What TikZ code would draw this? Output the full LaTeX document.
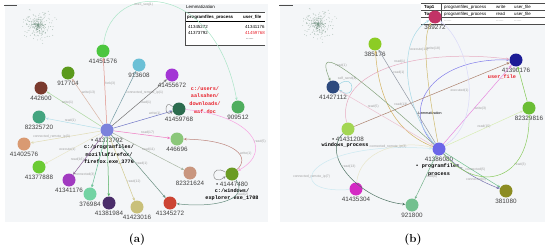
\documentclass[tikz,border=0pt]{standalone}
\usepackage{fontspec}
\setsansfont{Liberation Sans}
\setmonofont{Liberation Mono}
\usepackage{tikz}
\usetikzlibrary{positioning,calc,arrows.meta}
% node colours, panel (a)
\definecolor{cHubA}{HTML}{7B82DC}
\definecolor{cA1}{HTML}{4CC63F}
\definecolor{cA2}{HTML}{5B9A1C}
\definecolor{cA3}{HTML}{7A3A2E}
\definecolor{cA4}{HTML}{6CC0D6}
\definecolor{cA5}{HTML}{A335D5}
\definecolor{cA6}{HTML}{2B6B4E}
\definecolor{cA7}{HTML}{4FAE5E}
\definecolor{cA8}{HTML}{8BC77A}
\definecolor{cA9}{HTML}{C9967F}
\definecolor{cA10}{HTML}{6A9B23}
\definecolor{cA11}{HTML}{CC4433}
\definecolor{cA12}{HTML}{C9C07A}
\definecolor{cA13}{HTML}{4A2D6A}
\definecolor{cA14}{HTML}{73D3A3}
\definecolor{cA15}{HTML}{A13AC0}
\definecolor{cA16}{HTML}{6BCB33}
\definecolor{cA17}{HTML}{D99A72}
\definecolor{cA18}{HTML}{43A47F}
% node colours, panel (b)
\definecolor{cHubB}{HTML}{6C66E8}
\definecolor{cB1}{HTML}{8CCC25}
\definecolor{cB2}{HTML}{2D4A7E}
\definecolor{cB3}{HTML}{C23366}
\definecolor{cB4}{HTML}{1C1C96}
\definecolor{cB5}{HTML}{6BBE35}
\definecolor{cB6}{HTML}{8C8C22}
\definecolor{cB7}{HTML}{73C08F}
\definecolor{cB8}{HTML}{D42AC4}
\definecolor{cB9}{HTML}{A3D653}
% misc
\definecolor{panelbg}{HTML}{F4F6F8}
\definecolor{pathred}{HTML}{E8202A}
\definecolor{cloudgr}{HTML}{7E9C8C}

\begin{document}
\begin{tikzpicture}[x=1pt, y=-1pt,
    % Estilos
    vtx/.style={circle, inner sep=0pt, minimum size=13pt},
    num/.style={font=\fontsize{6.3}{7}\selectfont\sffamily, text=black!75, inner sep=0.5pt},
    fpath/.style={font=\fontsize{5.2}{7.8}\selectfont\ttfamily\bfseries, align=center, inner sep=0pt},
    ed/.style={-{Stealth[length=3pt, width=2.6pt]}, line width=0.5pt},
    elbl/.style={font=\fontsize{3.4}{4}\selectfont\sffamily, text=black!38, inner sep=0.4pt},
    tbl/.style={font=\fontsize{4.4}{5}\selectfont\sffamily, inner sep=0pt, anchor=west},
    tline/.style={line width=0.3pt, black!70},
    capt/.style={font=\fontsize{11.5}{13}\selectfont\bfseries}
]
\useasboundingbox (0,0) rectangle (550,249);

% --- FONDOS ---
\fill[panelbg] (5,4) rectangle (268,222);
\fill[panelbg] (280,4) rectangle (545,222);
\draw[line width=0.8pt, black!70] (4,5) -- (17,5);
\draw[line width=0.8pt, black!70] (279,5) -- (293,5);
\pgfmathsetseed{11}
\foreach \k in {1,...,320}{
  \pgfmathsetmacro{\rr}{20*rnd*sqrt(rnd)}
  \pgfmathsetmacro{\aa}{360*rnd}
  \fill[cloudgr, opacity=0.55, shift={(38,25)}] (\aa:\rr) circle (0.45);
  \fill[cloudgr, opacity=0.55, shift={(318,24)}] (\aa:\rr) circle (0.45);
}

% --- TABLAS ---
\fill[white] (185,12) rectangle (266,45);
\node[tbl] (tAttl) at (186,6.5) {Lemmatization};
\draw[tline] (185,12) -- (265,12);
\node[tbl, font=\fontsize{4.4}{5}\selectfont\sffamily\bfseries] (tAh1) at (187,17) {programfiles\_process};
\node[tbl, font=\fontsize{4.4}{5}\selectfont\sffamily\bfseries] (tAh2) at (243,17) {user\_file};
\draw[line width=0.6pt] (185,21.5) -- (265,21.5);
\node[tbl] (tAr1a) at (188,26.5) {41345272};
\node[tbl] (tAr1b) at (245,26.5) {41341176};
\node[tbl] (tAr2a) at (188,33) {41373792};
\node[tbl, text=pathred] (tAr2b) at (245,33) {41459768};
\node[tbl] (tAr3b) at (246,39) {......};
\draw[tline] (185,12) -- (185,45) -- (265,45);

\fill[white] (421,3.5) rectangle (545,24);
\foreach \yy in {3.5,10.5,17.5,24}{\draw[tline] (421,\yy) -- (545,\yy);}
\draw[tline] (441,3.5) -- (441,24);
\node[tbl, font=\fontsize{4.4}{5}\selectfont\sffamily\bfseries] (tB11) at (424,7) {Top1};
\node[tbl] (tB12) at (444,7) {programfiles\_process};
\node[tbl] (tB13) at (496,7) {write};
\node[tbl] (tB14) at (514,7) {user\_file};
\node[tbl, font=\fontsize{4.4}{5}\selectfont\sffamily\bfseries] (tB21) at (424,14) {Top2};
\node[tbl] (tB22) at (444,14) {programfiles\_process};
\node[tbl] (tB23) at (496,14) {read};
\node[tbl] (tB24) at (514,14) {user\_file};
\node[tbl, text=black!50] (tB32) at (444,21) {......};
\node[tbl, text=black!50] (tB33) at (496,21) {......};
\node[tbl, text=black!50] (tB34) at (514,21) {......};

% --- NODOS (a) ---
\node[vtx, fill=cHubA] (hubA) at (107,130) {};
\foreach \nm/\px/\py/\col/\txt in {
    a41451576/103/51/cA1/41451576, a917704/68/73/cA2/917704,
    a442600/41/88/cA3/442600, a913608/139/65/cA4/913608,
    a41455672/172/75/cA5/41455672, a41459768/179/109/cA6/41459768,
    a909512/238/107/cA7/909512, a446696/177/139/cA8/446696,
    a82321624/190/173/cA9/82321624, a41345272/170/203/cA11/41345272,
    a41423016/137/207/cA12/41423016, a41381984/109/203/cA13/41381984,
    a376984/90/194/cA14/376984, a41341176/69/180/cA15/41341176,
    a41377888/39/167/cA16/41377888, a41402576/24/144/cA17/41402576,
    a82325720/39/117/cA18/82325720}{
  \node[vtx, fill=\col] (\nm) at (\px,\py) {};
  \node[num, below=0.6pt of \nm] (\nm-l) {\txt};
}
\node[vtx, fill=cA10] (a41447480) at (232,174) {};
\node[num, below=0.6pt of a41447480] (a41447480-l) {\textbullet\ 41447480};
\node[fpath, below=1pt of a41447480-l] (a41447480-p) {c:/windows/\\explorer.exe\_1708};
\node[num, below=0.6pt of hubA] (hubA-l) {\textbullet\ 41373792};
\node[fpath, below=1pt of hubA-l, xshift=2pt] (hubA-p) {c:/programfiles/\\mozillafirefox/\\firefox.exe\_3776};
\node[fpath, text=pathred] (a41459768-p) at (205,100) {c:/users/\\aalsahen/\\downloads/\\maf.doc};

% --- NODOS (b) ---
\node[vtx, fill=cHubB] (hubB) at (439,149) {};
\foreach \nm/\px/\py/\col/\txt in {
    b385176/375/44/cB1/385176, b41427112/333/87/cB2/41427112,
    b389272/435/17/cB3/389272, b41390176/516/60/cB4/41390176,
    b82329816/529/108/cB5/82329816, b381080/506/191/cB6/381080,
    b921800/412/205/cB7/921800, b41435304/356/189/cB8/41435304}{
  \node[vtx, fill=\col] (\nm) at (\px,\py) {};
  \node[num, below=0.6pt of \nm] (\nm-l) {\txt};
}
\node[vtx, fill=cB9] (b41431208) at (348,129) {};
\node[num, below=0.6pt of b41431208] (b41431208-l) {\textbullet\ 41431208};
\node[fpath, below=0.5pt of b41431208-l, xshift=-3pt] (b41431208-p) {windows\_process};
\node[num, below=0.6pt of hubB] (hubB-l) {41386080};
\node[fpath, below=1pt of hubB-l] (hubB-p) {\textbullet\ programfiles\_\\process};
\node[fpath, text=pathred, below=1pt of b41390176-l, xshift=-14pt] (b41390176-p) {user\_file};
\node[font=\fontsize{3.6}{4}\selectfont\sffamily] (lemB) at (430,113) {Lemmatization};

% --- ENRUTADO (a) ---
\draw[ed, draw=cA11!60] (hubA) -- node[elbl, pos=.6, right] {fork(3)} (a41451576);
\draw[ed, draw=cA4!45!gray] (hubA) -- node[elbl, pos=.6, right] {connected\_remote\_ip(1)} (a913608);
\draw[ed, draw=cA9!70] (hubA) -- node[elbl, pos=.7, right] {write(13)} (a917704);
\draw[ed, draw=cA8!70] (hubA) -- node[elbl, pos=.62, above] {write(1)} (a442600);
\draw[ed, draw=cA4!50] (hubA) -- node[elbl, pos=.55, above] {read(1)} (a82325720);
\draw[ed, draw=cA12!55] (hubA) -- node[elbl, pos=.7, above] {connected\_remote\_ip(3)} (a41402576);
\draw[ed, draw=cA12!40] (hubA) -- node[elbl, pos=.6, above] {execute(1)} (a41377888);
\draw[ed, draw=cA15!40!gray] (hubA) -- node[elbl, pos=.62, left] {read(16)} (a41341176);
\draw[ed, draw=cA14!90!black] (hubA) -- node[elbl, pos=.75, left] {connected(3)} (a376984);
\draw[ed, draw=cA7] (hubA) -- (a41381984);
\draw[ed, draw=cA12!85] (hubA) -- node[elbl, pos=.7, right] {read(12)} (a41423016);
\draw[ed, draw=cA18!40!gray] (hubA) -- node[elbl, pos=.45, right] {read(1)} (a41345272);
\draw[ed, draw=cA8!35!gray!70] (hubA) -- node[elbl, pos=.5, above] {read(11)} (a82321624);
\draw[ed, draw=cA11!50!magenta!60] (hubA) -- node[elbl, pos=.6, above] {read(17)} (a446696);
\draw[ed, draw=cHubA!90!black] (hubA) -- node[elbl, pos=.7, above] {write(1)} (a41459768);
\draw[ed, draw=black!55] (hubA) -- node[elbl, pos=.5, right] {read(1)} (a41455672);
\draw[ed, draw=cA14!60] (a41451576) .. controls (110,-20) and (215,-20) .. node[elbl, pos=.38, below] {exec\_seq(1)} (a909512);
\draw[ed, draw=cA11!35!magenta!40] (a41459768) .. controls (250,115) and (275,150) .. node[elbl, pos=.6, right] {read(5)} (a41447480);
\draw[ed, draw=cA11!70!black!60] (a41447480) .. controls (250,158) and (238,140) .. node[elbl, pos=.4, right] {write(1)} (a446696);
\draw[ed, draw=cA18!40!gray] (a41447480) .. controls (250,200) and (215,208) .. node[elbl, pos=.3, right] {read(2)} (a41345272);
\draw[ed, draw=black!45] (a41447480.165) .. controls (210,162) and (210,188) .. (a41447480.200);
\draw[ed, draw=black!45] (a41459768.160) .. controls (164,98) and (164,118) .. (a41459768.200);

% --- ENRUTADO (b) ---
\draw[ed, draw=cB8!55] (hubB) -- node[elbl, pos=.45, right] {write(3)} (b41390176);
\draw[ed, draw=cHubB!85] (hubB) .. controls (400,110) and (430,58) .. (b41390176);
\draw[ed, draw=cA9!85!black] (b41431208) -- node[elbl, pos=.3, above] {read(13)} (b41390176);
\draw[ed, draw=cB3!40] (b41431208) .. controls (335,70) and (420,48) .. node[elbl, pos=.55, above] {read(1)} (b41390176);
\draw[ed, draw=cB2!35!gray!70] (hubB) -- node[elbl, pos=.75, right] {read(1)} (b385176);
\draw[ed, draw=cA12!80!orange] (hubB) .. controls (390,130) and (378,90) .. (b385176);
\draw[ed, draw=cA4!60] (hubB) .. controls (405,110) and (395,40) .. node[elbl, pos=.7, right] {execute(14)} (b389272);
\draw[ed, draw=cA12!90!orange] (hubB) .. controls (430,100) and (420,40) .. node[elbl, pos=.7, right] {write(18)} (b389272);
\draw[ed, draw=cHubB!25] (hubB) .. controls (485,120) and (470,45) .. node[elbl, pos=.45, left] {executed(1)} (b389272);
\draw[ed, draw=cA4!70] (b41427112.25) .. controls (356,72) and (356,102) .. node[elbl, pos=.2, above] {self\_send(4)} (b41427112.-25);
\draw[ed, draw=cA8!50!gray] (hubB) .. controls (340,60) and (315,45) .. node[elbl, pos=.5, above] {read(1)} (b41427112);
\draw[ed, draw=cB3!30] (b41427112) -- node[elbl, pos=.3, right] {read(5)} (hubB);
\draw[ed, draw=cA6!60!gray] (b41431208) .. controls (320,155) and (360,200) .. node[elbl, pos=.4, right] {read(13)} (b921800);
\draw[ed, draw=cA4!35] (b41435304) .. controls (280,195) and (305,140) .. node[elbl, pos=.35, above] {connected\_remote\_ip(7)} (hubB);
\draw[ed, draw=cA12!40] (b41435304) .. controls (360,150) and (400,140) .. node[elbl, pos=.55, above] {connected\_remote\_ip(3)} (hubB);
\draw[ed, draw=cB7!80!gray] (hubB) -- node[elbl, pos=.5, right] {read(6)} (b921800);
\draw[ed, draw=cB7] (hubB) -- node[elbl, pos=.55, above] {connected(5)} (b381080);
\draw[ed, draw=cHubB!45!gray] (hubB) .. controls (465,175) and (490,185) .. node[elbl, pos=.5, below] {connected(3)} (b381080);
\draw[ed, draw=cB1!35] (hubB) -- node[elbl, pos=.5, above] {read(15)} (b82329816);
\draw[ed, draw=cB5!80] (hubB) .. controls (480,195) and (530,180) .. node[elbl, pos=.65, right] {read(3)} (b82329816);
\draw[ed, draw=cB5!85] (b82329816) -- (b41390176);

% --- ETIQUETADO ---
\node[capt] (capA) at (137,240) {(a)};
\node[capt] (capB) at (413,240) {(b)};
\end{tikzpicture}
\end{document}
